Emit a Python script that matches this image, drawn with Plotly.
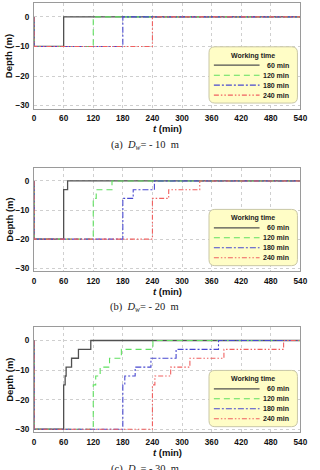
import plotly.graph_objects as go

# ---------------- data ----------------
series_names = ["60 min", "120 min", "180 min", "240 min"]
x_ticks = [0, 60, 120, 180, 240, 300, 360, 420, 480, 540]
y_ticks = [0, -10, -20, -30]
captions = ["(a)  <i>D</i><sub><i>w</i></sub>= - 10  m",
            "(b)  <i>D</i><sub><i>w</i></sub>= - 20  m",
            "(c)  <i>D</i><sub><i>w</i></sub>= - 30  m"]

# Panel (a): Dw = -10 m  (time of each change, depth after change)
a_t = [[0, 0, 60, 540], [0, 0, 120, 540], [0, 0, 180, 540], [0, 0, 240, 540]]
a_d = [[0, -10, 0, 0], [0, -10, 0, 0], [0, -10, 0, 0], [0, -10, 0, 0]]

# Panel (b): Dw = -20 m
b_t = [[0, 0, 60, 68, 540],
       [0, 0, 120, 126, 158, 540],
       [0, 0, 180, 201, 244, 540],
       [0, 0, 240, 273, 336, 540]]
b_d = [[0, -20, -3, 0, 0],
       [0, -20, -6, -3, 0, 0],
       [0, -20, -6, -3, 0, 0],
       [0, -20, -6, -3, 0, 0]]

# Panel (c): Dw = -30 m
c_t = [[0, 0, 60, 63, 65, 76, 90, 115, 540],
       [0, 0, 120, 125, 134, 153, 177, 241, 540],
       [0, 0, 180, 184, 205, 237, 288, 374, 540],
       [0, 0, 240, 245, 277, 316, 385, 506, 540]]
c_d = [[0, -30, -15, -12, -9, -6, -3, 0, 0],
       [0, -30, -15, -12, -9, -6, -3, 0, 0],
       [0, -30, -15, -12, -9, -6, -3, 0, 0],
       [0, -30, -15, -12, -9, -6, -3, 0, 0]]

panels_t = [a_t, b_t, c_t]
panels_d = [a_d, b_d, c_d]

# ---------------- style ----------------
W, H = 320, 470
colors = ["#505050", "#5fe05f", "#4848d0", "#f06060"]
dashes = ["solid", "6px,4px", "6px,2px,2px,2px", "5px,2px,1.5px,2px,1.5px,2px"]
widths = [1.3, 1.1, 1.1, 1.1]
SANS = "Liberation Sans, Arial, sans-serif"
SERIF = "Liberation Serif, Times New Roman, serif"

plot_left, plot_right = 33, 307
plot_boxes = [(3.3, 109.0), (168.3, 272.3), (328.3, 434.0)]  # (top, bottom) in px
caption_y = [146, 309, 472]


def xp(px):
    return px / W


def yp(py):
    return 1 - py / H


def text(txt, x, y, size, family=SANS, xanchor="center", angle=0, color="#111"):
    return dict(text=txt, x=xp(x), y=yp(y), xref="paper", yref="paper", showarrow=False,
                xanchor=xanchor, yanchor="middle", textangle=angle,
                font=dict(family=family, size=size, color=color))


fig = go.Figure()
shapes = []
annotations = []

for p in range(3):
    sfx = "" if p == 0 else str(p + 1)
    xa, ya = "x" + sfx, "y" + sfx
    for i, name in enumerate(series_names):
        fig.add_trace(go.Scatter(
            x=panels_t[p][i], y=panels_d[p][i], mode="lines", name=name,
            line=dict(color=colors[i], dash=dashes[i], width=widths[i], shape="hv"),
            xaxis=xa, yaxis=ya, showlegend=False, hoverinfo="skip"))

    top, bot = plot_boxes[p]
    axis_common = dict(showline=True, mirror=True, linecolor="#9a9a9a", linewidth=1,
                       showgrid=True, gridcolor="#cfcfcf", griddash="dot", gridwidth=1,
                       zeroline=False, ticks="", ticklabelstandoff=2,
                       tickfont=dict(family=SANS, size=8.2, color="#111", weight="bold"))
    fig.update_layout(**{
        "xaxis" + sfx: dict(domain=[xp(plot_left), xp(plot_right)], range=[0, 540],
                            tickvals=x_ticks, anchor=ya, **axis_common),
        "yaxis" + sfx: dict(domain=[yp(bot), yp(top)], range=[-31, 4.6],
                            tickvals=y_ticks, anchor=xa, **axis_common),
    })

    # axis titles
    annotations.append(text("<b><i>t</i> (min)</b>", (plot_left + plot_right) / 2, bot + 20, 9.5))
    annotations.append(text("<b>Depth (m)</b>", 7.5, (top + bot) / 2, 9.5, angle=-90))
    # caption
    annotations.append(text(captions[p], 147, caption_y[p], 10.5, family=SERIF, color="#222"))

    # legend box (rounded)
    lx0, lx1 = 213, 304
    ly0, ly1 = bot - 62, bot - 5.5
    r = 6
    path = (f"M {xp(lx0 + r)},{yp(ly0)} L {xp(lx1 - r)},{yp(ly0)} "
            f"Q {xp(lx1)},{yp(ly0)} {xp(lx1)},{yp(ly0 + r)} "
            f"L {xp(lx1)},{yp(ly1 - r)} Q {xp(lx1)},{yp(ly1)} {xp(lx1 - r)},{yp(ly1)} "
            f"L {xp(lx0 + r)},{yp(ly1)} Q {xp(lx0)},{yp(ly1)} {xp(lx0)},{yp(ly1 - r)} "
            f"L {xp(lx0)},{yp(ly0 + r)} Q {xp(lx0)},{yp(ly0)} {xp(lx0 + r)},{yp(ly0)} Z")
    shapes.append(dict(type="path", path=path, xref="paper", yref="paper",
                       fillcolor="#fffdc6", line=dict(color="#c9c7a6", width=1), layer="above"))
    annotations.append(text("<b>Working time</b>", (lx0 + lx1) / 2, ly0 + 9, 7, color="#222"))
    for i, name in enumerate(series_names):
        yy = ly0 + 18.5 + 10 * i
        shapes.append(dict(type="line", x0=xp(218), x1=xp(265), y0=yp(yy), y1=yp(yy),
                           xref="paper", yref="paper", layer="above",
                           line=dict(color=colors[i], dash=dashes[i], width=widths[i])))
        annotations.append(text("<b>" + name + "</b>", 297, yy, 7, xanchor="right", color="#222"))

fig.update_layout(width=W, height=H, margin=dict(l=0, r=0, t=0, b=0),
                  paper_bgcolor="white", plot_bgcolor="white",
                  shapes=shapes, annotations=annotations, showlegend=False)

fig.write_html("out.html", config={"displayModeBar": False})
